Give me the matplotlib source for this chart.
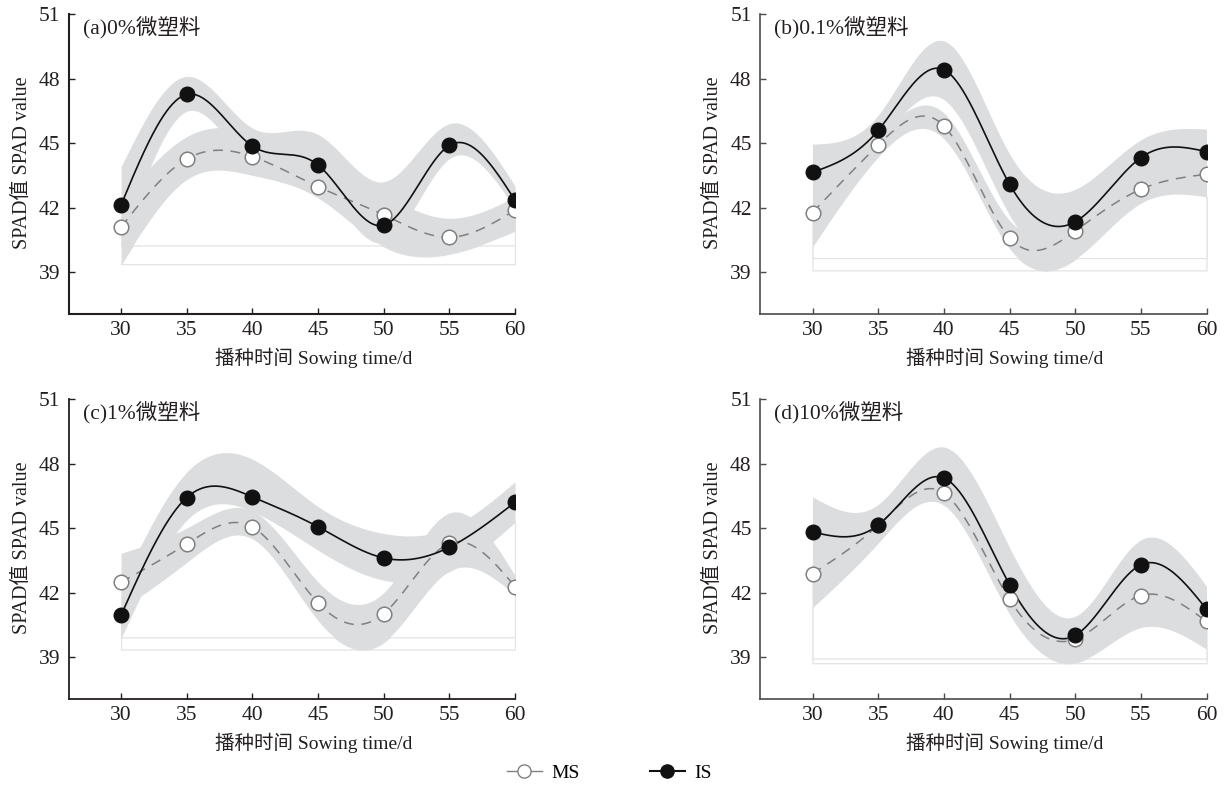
import numpy as np
import matplotlib
matplotlib.use('Agg')
import matplotlib.pyplot as plt
from matplotlib.lines import Line2D

# ---------------- data ----------------
days = [30, 35, 40, 45, 50, 55, 60]
yticks = [39, 42, 45, 48, 51]
titles = ['(a)0%微塑料', '(b)0.1%微塑料', '(c)1%微塑料', '(d)10%微塑料']

# (a) 0%
is_a = [42.12, 47.26, 44.86, 43.98, 41.18, 44.89, 42.34]
is_a_hi = [43.9, 48.1, 45.7, 45.4, 43.2, 45.9, 43.0]
is_a_lo = [40.24, 46.5, 44.0, 43.2, 40.4, 44.3, 42.0]
ms_a = [41.09, 44.26, 44.37, 42.97, 41.66, 40.62, 41.88]
ms_a_hi = [42.3, 45.3, 45.5, 44.2, 42.6, 41.5, 42.5]
ms_a_lo = [39.37, 43.3, 43.5, 42.45, 40.2, 39.85, 40.9]

# (b) 0.1%
is_b = [43.64, 45.59, 48.41, 43.09, 41.34, 44.32, 44.60]
is_b_hi = [44.95, 46.3, 49.75, 44.5, 42.85, 45.15, 45.65]
is_b_lo = [42.0, 45.0, 47.05, 41.7, 39.9, 43.2, 42.5]
ms_b = [41.77, 44.91, 45.80, 40.60, 40.91, 42.85, 43.55]
ms_b_hi = [43.0, 45.4, 46.4, 41.4, 41.6, 43.6, 44.2]
ms_b_lo = [40.17, 44.35, 45.2, 40.1, 39.6, 42.2, 42.5]

# (c) 1%
is_c = [40.95, 46.42, 46.45, 45.06, 43.61, 44.11, 46.20]
is_c_hi = [42.3, 47.6, 48.2, 46.0, 44.75, 45.0, 47.15]
is_c_lo = [39.92, 45.4, 45.8, 44.0, 42.6, 43.0, 45.3]
ms_c = [42.48, 44.26, 45.05, 41.52, 41.02, 44.29, 42.28]
ms_c_hi = [43.83, 45.0, 45.8, 42.5, 42.0, 45.7, 42.8]
ms_c_lo = [41.2, 43.4, 44.5, 40.7, 39.7, 43.0, 41.9]

# (d) 10%
is_d = [44.82, 45.14, 47.33, 42.37, 40.01, 43.29, 41.23]
is_d_hi = [46.45, 46.1, 48.77, 44.1, 40.9, 44.45, 42.3]
is_d_lo = [43.3, 44.8, 46.5, 41.5, 39.06, 42.2, 40.3]
ms_d = [42.88, 45.14, 46.63, 41.68, 39.83, 41.86, 40.66]
ms_d_hi = [44.3, 45.8, 47.6, 43.0, 40.7, 43.0, 41.6]
ms_d_lo = [41.3, 44.3, 46.06, 41.0, 38.75, 40.37, 39.37]

panels = [
    (is_a, is_a_lo, is_a_hi, ms_a, ms_a_lo, ms_a_hi),
    (is_b, is_b_lo, is_b_hi, ms_b, ms_b_lo, ms_b_hi),
    (is_c, is_c_lo, is_c_hi, ms_c, ms_c_lo, ms_c_hi),
    (is_d, is_d_lo, is_d_hi, ms_d, ms_d_lo, ms_d_hi),
]

# ---------------- helpers ----------------
def natural_spline(x, y, xs):
    x = np.asarray(x, float)
    y = np.asarray(y, float)
    n = len(x)
    h = np.diff(x)
    A = np.zeros((n, n))
    b = np.zeros(n)
    A[0, 0] = 1
    A[-1, -1] = 1
    for i in range(1, n - 1):
        A[i, i - 1] = h[i - 1]
        A[i, i] = 2 * (h[i - 1] + h[i])
        A[i, i + 1] = h[i]
        b[i] = 3 * ((y[i + 1] - y[i]) / h[i] - (y[i] - y[i - 1]) / h[i - 1])
    c = np.linalg.solve(A, b)
    bc = (y[1:] - y[:-1]) / h - h * (2 * c[:-1] + c[1:]) / 3
    d = (c[1:] - c[:-1]) / (3 * h)
    idx = np.clip(np.searchsorted(x, xs) - 1, 0, n - 2)
    dx = xs - x[idx]
    return y[idx] + bc[idx] * dx + c[idx] * dx ** 2 + d[idx] * dx ** 3

SERIF = ['Liberation Serif', 'Noto Sans CJK SC', 'DejaVu Sans']
plt.rcParams['font.family'] = SERIF

BAND = '#dcdddf'
EDGE = '#e3e3e3'
MS_C = '#808080'
IS_C = '#111111'
TXT = '#231f20'

fig = plt.figure(figsize=(12.26, 7.88), dpi=100)

W = 0.3642
H = 0.3807
positions = [
    (0.0559, 0.6015), (0.6199, 0.6015),
    (0.0559, 0.1129), (0.6199, 0.1129),
]
spine_style = [('#231f20', 1.5), ('#4a4a4a', 1.2), ('#231f20', 1.3), ('#4a4a4a', 1.2)]

xs = np.linspace(days[0], days[-1], 400)

for k, (pos, data) in enumerate(zip(positions, panels)):
    ax = fig.add_axes([pos[0], pos[1], W, H])
    is_v, is_lo, is_hi, ms_v, ms_lo, ms_hi = data

    # faint white base areas (baseline = minimum of lower band)
    for lo in (ms_lo, is_lo):
        lo_s = natural_spline(days, lo, xs)
        ax.fill_between(xs, lo_s.min(), lo_s, facecolor='white',
                        edgecolor=EDGE, linewidth=0.9, zorder=1)
    # confidence bands
    for lo, hi in ((ms_lo, ms_hi), (is_lo, is_hi)):
        ax.fill_between(xs, natural_spline(days, lo, xs),
                        natural_spline(days, hi, xs),
                        color=BAND, linewidth=0, zorder=2)
    # curves
    ax.plot(xs, natural_spline(days, ms_v, xs), color=MS_C, lw=1.1,
            linestyle=(0, (6.5, 5)), zorder=3)
    ax.plot(xs, natural_spline(days, is_v, xs), color=IS_C, lw=1.2, zorder=3)
    # points
    ax.plot(days, ms_v, linestyle='none', marker='o', ms=10.5,
            mfc='white', mec=MS_C, mew=1.1, zorder=4)
    ax.plot(days, is_v, linestyle='none', marker='o', ms=10.5,
            mfc=IS_C, mec=IS_C, mew=1.0, zorder=5)

    ax.set_xlim(26, 60)
    ax.set_ylim(37.05, 51)
    ax.set_xticks(days)
    ax.set_yticks(yticks)
    for s in ('top', 'right'):
        ax.spines[s].set_visible(False)
    col, lw = spine_style[k]
    for s in ('left', 'bottom'):
        ax.spines[s].set_color(col)
        ax.spines[s].set_linewidth(lw)
    ax.tick_params(direction='in', length=4, width=1.0, colors=col,
                   labelcolor=TXT, labelsize=15.5)
    ax.tick_params(axis='y', pad=6)
    ax.tick_params(axis='x', pad=5)

    ax.set_ylabel('SPAD值 SPAD value', fontsize=14.5, color=TXT, va='center')
    ax.yaxis.set_label_coords(-0.104, 0.505)
    ax.set_xlabel('播种时间 Sowing time/d', fontsize=14, color=TXT, va='center')
    ax.xaxis.set_label_coords(0.548, -0.147)
    ax.text(0.032, 0.952, titles[k], transform=ax.transAxes, fontsize=15.5,
            ha='left', va='center', color=TXT)

handles = [
    Line2D([], [], color=MS_C, lw=1.0, marker='o', ms=9.5, mfc='white',
           mec=MS_C, mew=1.0),
    Line2D([], [], color=IS_C, lw=1.5, marker='o', ms=9.5, mfc=IS_C, mec=IS_C),
]
fig.legend(handles, ['MS', 'IS'], loc='center', bbox_to_anchor=(0.497, 0.019),
           ncol=2, frameon=False, fontsize=14, handlelength=1.8,
           columnspacing=3.6, handletextpad=0.5)

fig.savefig('out.png', dpi=100)
